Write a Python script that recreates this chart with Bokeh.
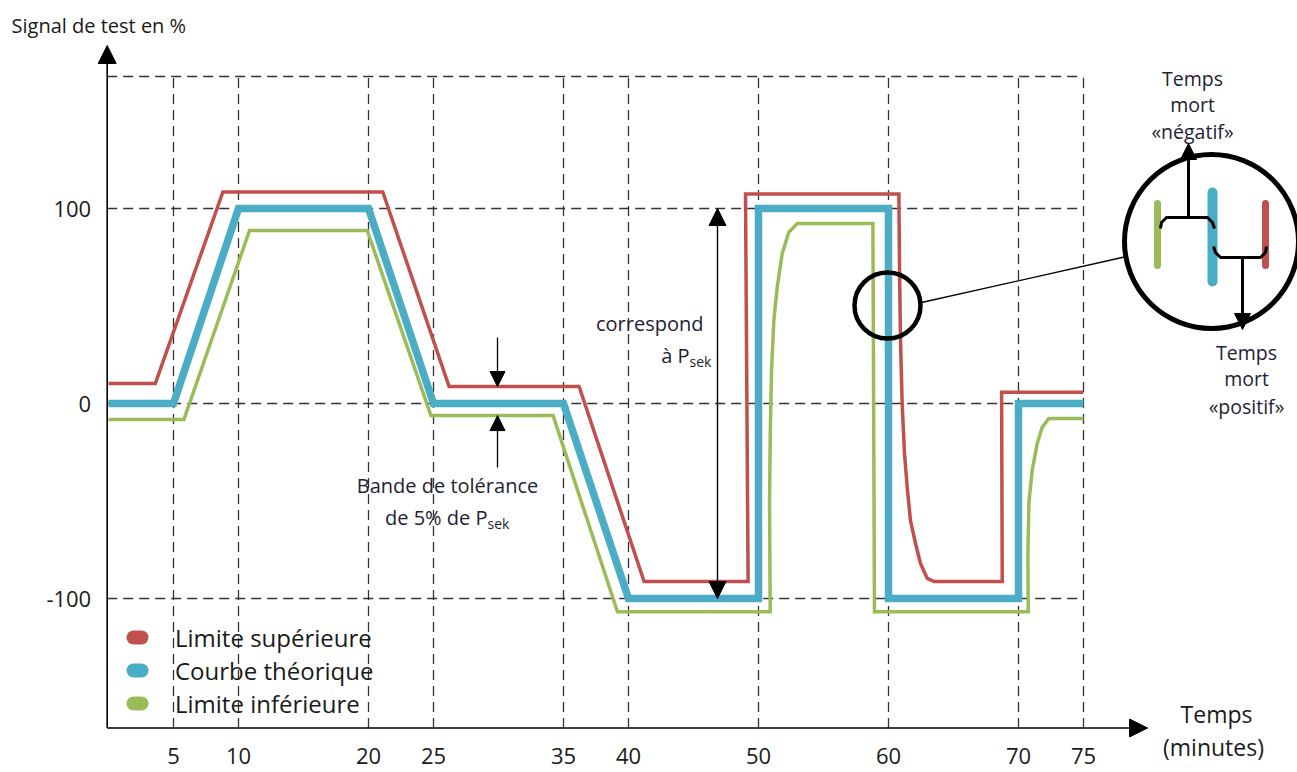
import math
from bokeh.plotting import figure
from bokeh.models import (Range1d, FixedTicker, Arrow, NormalHead, Legend,
                          LegendItem, Label, LinearAxis)
from bokeh.embed import file_html
from bokeh.resources import INLINE

# ---------------- data (minutes, % of test signal) ----------------
time_theo = [0, 5, 10, 20, 25, 35, 40, 50, 50, 60, 60, 70, 70, 75]
signal_theo = [0, 0, 100, 100, 0, 0, -100, -100, 100, 100, -100, -100, 0, 0]

time_upper = [0, 3.6, 8.8, 21.1, 26.2, 36.2, 41.2, 49.2, 49.0, 60.8, 60.85,
              60.92, 61.05, 61.23, 61.44, 61.69, 62.08, 62.46, 62.98, 63.5,
              68.75, 68.7, 75]
signal_upper = [10.2, 10.2, 108.5, 108.5, 8.7, 8.7, -91.3, -91.3, 107.5, 107.5,
                68.2, 33.8, 0, -25.6, -43, -60, -71.8, -82, -89.7, -91.3,
                -91.3, 5.8, 5.8]

time_lower = [0, 5.8, 10.85, 19.9, 24.8, 34.2, 39.15, 50.9, 50.85, 50.9, 51.0,
              51.18, 51.44, 51.82, 52.33, 52.98, 58.8, 58.92, 70.75, 70.72,
              70.8, 71.05, 71.44, 71.82, 72.33, 75]
signal_lower = [-8.2, -8.2, 88.7, 88.7, -6.2, -6.2, -106.8, -106.8, -51, -17, 17,
                42.6, 59.6, 76.8, 87.8, 92.3, 92.3, -106.8, -106.8, -77,
                -51, -34.4, -20.5, -12.3, -7.7, -7.7]

x_ticks = [5, 10, 20, 25, 35, 40, 50, 60, 70, 75]
y_ticks = [-100, 0, 100]
y_tick_labels = ["-100", "0", "100"]

legend_labels = ["Limite supérieure", "Courbe théorique", "Limite inférieure"]
RED, BLUE, GREEN = "#C0504D", "#4BACC6", "#9BBB59"

# ---------------- layout helpers (page pixels -> data) ----------------
def X(px):
    return (px - 108) / 13.0

def Y(py):
    return (403 - py) / 1.95

FONT = "Open Sans"
TXT = "#1a1a1a"
ANN = "#1f2233"

W, H = 1297, 772
p = figure(width=W, height=H, output_backend="svg", toolbar_location=None,
           x_range=Range1d(X(0), X(W)), y_range=Range1d(Y(H), Y(0)),
           x_axis_type=None, y_axis_type=None,
           min_border_left=0, min_border_right=0, min_border_top=0,
           min_border_bottom=0)
p.outline_line_color = None
p.background_fill_color = "white"
p.border_fill_color = "white"

AX_X0 = X(106.7)
AX_Y0 = Y(727.5)
GRID_TOP = Y(76)

xaxis = LinearAxis(fixed_location=AX_Y0, ticker=FixedTicker(ticks=x_ticks))
yaxis = LinearAxis(fixed_location=AX_X0, ticker=FixedTicker(ticks=y_ticks),
                   major_label_overrides={t: s for t, s in zip(y_ticks, y_tick_labels)})
for ax in (xaxis, yaxis):
    ax.axis_line_color = None
    ax.major_tick_line_color = None
    ax.minor_tick_line_color = None
    ax.major_label_text_font = FONT
    ax.major_label_text_font_size = "22px"
    ax.major_label_text_color = TXT
xaxis.major_label_standoff = 14
yaxis.major_label_standoff = 10
p.add_layout(xaxis, "below")
p.add_layout(yaxis, "left")

# dashed grid
n = len(x_ticks)
p.segment(x0=x_ticks, y0=[AX_Y0] * n, x1=x_ticks, y1=[GRID_TOP] * n,
          line_color="#333333", line_width=1.3, line_dash="10 6")
hy = y_ticks + [GRID_TOP]
p.segment(x0=[AX_X0] * len(hy), y0=hy, x1=[x_ticks[-1]] * len(hy), y1=hy,
          line_color="#333333", line_width=1.3, line_dash="10 6")

# axes with arrows
p.add_layout(Arrow(end=NormalHead(size=18, fill_color="black", line_color="black"),
                   x_start=AX_X0, y_start=AX_Y0, x_end=AX_X0, y_end=Y(45),
                   line_width=1.6, line_color="black"))
p.add_layout(Arrow(end=NormalHead(size=18, fill_color="black", line_color="black"),
                   x_start=AX_X0, y_start=AX_Y0, x_end=X(1147), y_end=AX_Y0,
                   line_width=1.6, line_color="black"))

# curves
p.line(time_upper, signal_upper, line_color=RED, line_width=3.5, line_join="miter")
p.line(time_lower, signal_lower, line_color=GREEN, line_width=3.5, line_join="miter")
p.line(time_theo, signal_theo, line_color=BLUE, line_width=7.5, line_join="miter")

# legend: text from a Bokeh Legend, rounded pill markers drawn at the glyph spots
LEG_X, LEG_ROW0, LEG_DY = 126, 637, 33
leg_items = []
for i, (lab, col) in enumerate(zip(legend_labels, [RED, BLUE, GREEN])):
    r = p.line(x=[math.nan], y=[math.nan], line_color=col, line_width=14,
               line_alpha=0)
    leg_items.append(LegendItem(label=lab, renderers=[r]))
    cy = LEG_ROW0 + i * LEG_DY
    p.segment(x0=[X(LEG_X + 7)], y0=[Y(cy)], x1=[X(LEG_X + 15)], y1=[Y(cy)],
              line_color=col, line_width=14, line_cap="round")
legend = Legend(items=leg_items, location=(LEG_X, 52), glyph_width=22,
                glyph_height=LEG_DY, label_height=LEG_DY, spacing=0, padding=0,
                margin=0, label_standoff=27, border_line_color=None,
                background_fill_alpha=0, label_text_font=FONT,
                label_text_font_size="24px", label_text_color=TXT)
p.add_layout(legend)

# tolerance band arrows
xa = X(497)
p.add_layout(Arrow(end=NormalHead(size=15, fill_color="black", line_color="black"),
                   x_start=xa, y_start=Y(337), x_end=xa, y_end=8.7,
                   line_width=1.3))
p.add_layout(Arrow(end=NormalHead(size=15, fill_color="black", line_color="black"),
                   x_start=xa, y_start=Y(467), x_end=xa, y_end=-6.2,
                   line_width=1.3))

# P_sek double arrow
xb = X(717)
p.add_layout(Arrow(start=NormalHead(size=17, fill_color="black", line_color="black"),
                   end=NormalHead(size=17, fill_color="black", line_color="black"),
                   x_start=xb, y_start=-100, x_end=xb, y_end=100, line_width=1.4))

# magnifier
p.scatter(x=[X(887)], y=[Y(305)], marker="circle", size=66, fill_color=None,
          line_color="black", line_width=4.5)
p.line(x=[X(921), X(1126)], y=[Y(302), Y(256)], line_color="black", line_width=1.3)
p.scatter(x=[X(1211)], y=[Y(241)], marker="circle", size=174, fill_color=None,
          line_color="black", line_width=5)
p.segment(x0=[X(1157)], y0=[Y(203)], x1=[X(1157)], y1=[Y(265)], line_color=GREEN,
          line_width=7, line_cap="round")
p.segment(x0=[X(1212)], y0=[Y(192)], x1=[X(1212)], y1=[Y(281)], line_color=BLUE,
          line_width=10, line_cap="round")
p.segment(x0=[X(1265)], y0=[Y(203)], x1=[X(1265)], y1=[Y(265)], line_color=RED,
          line_width=7, line_cap="round")
p.line(x=[X(1160), X(1161), X(1166), X(1207), X(1212), X(1214)],
       y=[Y(228), Y(222), Y(217), Y(217), Y(222), Y(228)],
       line_color="black", line_width=3)
p.line(x=[X(1213), X(1215), X(1220), X(1260), X(1265), X(1266)],
       y=[Y(246), Y(252), Y(257), Y(257), Y(252), Y(246)],
       line_color="black", line_width=3)
p.add_layout(Arrow(end=NormalHead(size=16, fill_color="black", line_color="black"),
                   x_start=X(1188), y_start=Y(217), x_end=X(1188), y_end=Y(143),
                   line_width=3))
p.add_layout(Arrow(end=NormalHead(size=16, fill_color="black", line_color="black"),
                   x_start=X(1242), y_start=Y(257), x_end=X(1242), y_end=Y(329),
                   line_width=3))

# texts
def label(text, px, py, size, align="center", color=ANN, baseline="middle"):
    p.add_layout(Label(x=X(px), y=Y(py), text=text, text_font=FONT,
                       text_font_size=size, text_color=color, text_align=align,
                       text_baseline=baseline))

label("Signal de test en %", 11, 25, "20px", align="left", color=TXT)
label("Temps", 1216, 713, "23px", color=TXT)
label("(minutes)", 1213, 746, "23px", color=TXT)

label("Bande de tolérance", 447, 485, "20px")
label("de 5% de P", 487, 517, "20px", align="right")
label("sek", 487, 523, "14px", align="left")

label("correspond", 703, 323, "20px", align="right")
label("à P", 689, 355, "20px", align="right")
label("sek", 689, 361, "14px", align="left")

label("Temps", 1192, 78, "19.5px")
label("mort", 1192, 104, "19.5px")
label("«négatif»", 1192, 131, "19.5px")
label("Temps", 1246, 352, "19.5px")
label("mort", 1246, 378, "19.5px")
label("«positif»", 1246, 406, "19.5px")

open("out.html", "w").write(file_html(p, INLINE))
